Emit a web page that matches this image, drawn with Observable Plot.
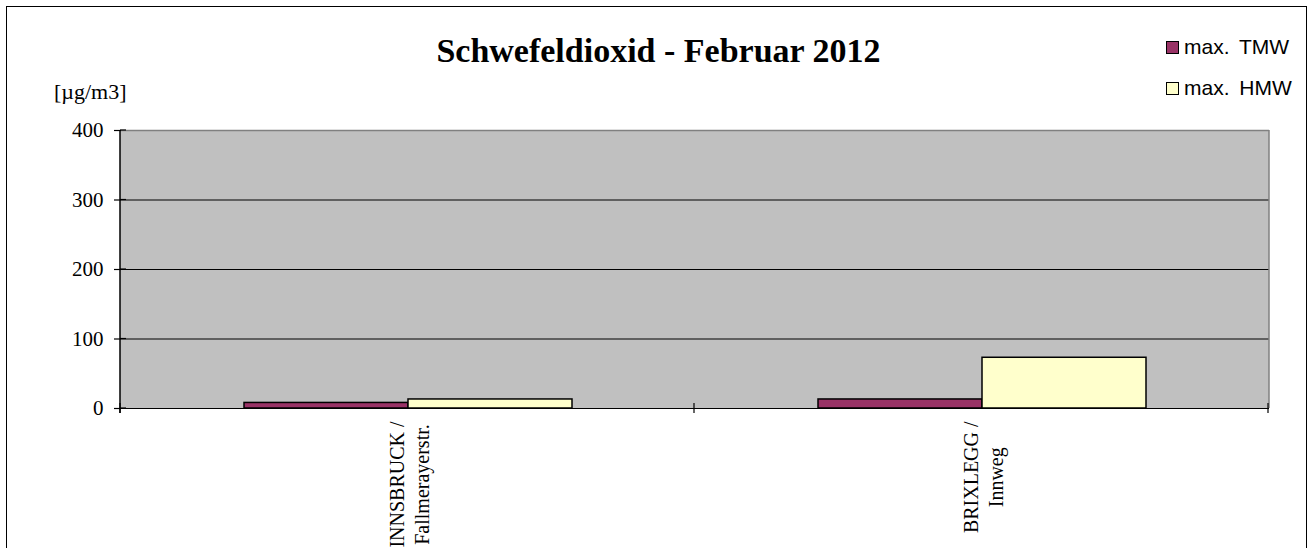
<!DOCTYPE html>
<html>
<head>
<meta charset="utf-8">
<script src="https://cdn.jsdelivr.net/npm/d3@7"></script>
<script src="https://cdn.jsdelivr.net/npm/@observablehq/plot@0.6"></script>
<style>
  html, body { margin: 0; padding: 0; background: #fff; }
  #wrap { position: relative; width: 1313px; height: 548px; overflow: hidden; background: #fff; }
  #chart { position: absolute; left: 0; top: 0; }
  #border { position: absolute; left: 6px; top: 6px; width: 1301px; height: 700px; border: 1.5px solid #000; box-sizing: border-box; pointer-events: none; }
  #title { position: absolute; left: 2px; top: 34px; width: 1313px; text-align: center; font: bold 34px/1 "Liberation Serif", "Times New Roman", serif; color: #000; }
  #unit { position: absolute; left: 54px; top: 81px; font: 22px/1 "Liberation Serif", "Times New Roman", serif; color: #000; }
  .leg { position: absolute; left: 1166px; font: 21px/1 "Liberation Sans", Arial, sans-serif; color: #000; word-spacing: 4px; white-space: nowrap; }
  .leg .sw { position: absolute; left: 0; width: 11px; height: 11px; border: 1px solid #000; }
  .leg .lb { position: absolute; left: 18px; top: 0; }
</style>
</head>
<body>
<div id="wrap">
  <div id="chart"></div>
  <div id="title">Schwefeldioxid - Februar 2012</div>
  <div id="unit">[µg/m3]</div>
  <div id="legend"></div>
  <div id="border"></div>
</div>
<script>
// ---- data ----
const stations = ["INNSBRUCK /\nFallmerayerstr.", "BRIXLEGG /\nInnweg"];
const seriesNames = ["max. TMW", "max. HMW"];
const tmwValues = [8, 13];
const hmwValues = [13, 73];
const yTicks = [0, 100, 200, 300, 400];
const gridTicks = [100, 200, 300];
const seriesColors = ["#993366", "#FFFFCC"];

// table for the library
const rows = [];
stations.forEach((s, i) => {
  rows.push({station: s, series: seriesNames[0], value: tmwValues[i]});
  rows.push({station: s, series: seriesNames[1], value: hmwValues[i]});
});

const chart = Plot.plot({
  width: 1313,
  height: 548,
  marginTop: 130,
  marginBottom: 140,
  marginLeft: 120,
  marginRight: 44,
  style: {fontFamily: "'Liberation Serif', 'Times New Roman', serif", fontSize: "21px", background: "transparent", overflow: "visible"},
  fx: {domain: stations, padding: 0, axis: null},
  x: {domain: seriesNames, paddingInner: 0, paddingOuter: 0.741, axis: null},
  y: {domain: [0, 400], axis: null},
  color: {domain: seriesNames, range: seriesColors},
  marks: [
    Plot.gridY({ticks: gridTicks, stroke: "#000", strokeOpacity: 1, strokeWidth: 1}),
    Plot.ruleY([400], {stroke: "#808080", strokeWidth: 1.5}),
    Plot.barY(rows, {fx: "station", x: "series", y: "value", fill: "series", stroke: "#000", strokeWidth: 1.5}),
    Plot.ruleY([0], {stroke: "#000", strokeWidth: 1}),
    Plot.axisY({ticks: yTicks, tickSize: 7, tickPadding: 11, fontSize: 21, label: null, stroke: "#000", strokeWidth: 1.2, tickFormat: d => String(d)}),
    Plot.text(stations, {fx: d => d, text: d => d, frameAnchor: "bottom", rotate: -90, textAnchor: "middle", lineAnchor: "middle", lineHeight: 1.25, fontSize: 20, fill: "#000", dy: 75})
  ]
});
document.getElementById("chart").appendChild(chart);

// ---- decorations derived from the library's scales ----
const svg = d3.select(chart);
const fxs = chart.scale("fx");
const ys = chart.scale("y");
const x0 = fxs.range[0], x1 = fxs.range[1];
const yb = ys.apply(0), yt = ys.apply(400);
const step = fxs.step || (x1 - x0) / stations.length;

// plot-area background (one rect, below everything)
svg.insert("rect", ":first-child")
  .attr("x", x0).attr("y", yt).attr("width", x1 - x0).attr("height", yb - yt)
  .attr("fill", "#C0C0C0");

const deco = svg.append("g");
deco.append("line").attr("x1", x1).attr("x2", x1).attr("y1", yt).attr("y2", yb).attr("stroke", "#808080").attr("stroke-width", 1.5);
deco.append("line").attr("x1", x0).attr("x2", x0).attr("y1", yt).attr("y2", yb + 5).attr("stroke", "#000").attr("stroke-width", 1.5);
for (let i = 0; i <= stations.length; i++) {
  const xx = x0 + i * step;
  deco.append("line").attr("x1", xx).attr("x2", xx).attr("y1", yb - 5).attr("y2", yb + 5).attr("stroke", "#000").attr("stroke-width", 1.2);
}
// y ticks crossing slightly into the plot
yTicks.forEach(t => {
  deco.append("line").attr("x1", x0).attr("x2", x0 + 6).attr("y1", ys.apply(t)).attr("y2", ys.apply(t)).attr("stroke", "#000").attr("stroke-width", 1.2);
});

// top-align the rotated category labels just below the axis
const svgRect = chart.getBoundingClientRect();
svg.selectAll('g[aria-label="text"] text').each(function() {
  const r = this.getBoundingClientRect();
  const top = r.top - svgRect.top;
  const shift = (yb + 13) - top;
  this.setAttribute("transform", `translate(0,${shift}) ` + (this.getAttribute("transform") || ""));
});

// ---- legend ----
const legend = document.getElementById("legend");
const legTops = [36, 77];
seriesNames.forEach((name, i) => {
  const d = document.createElement("div");
  d.className = "leg";
  d.style.top = legTops[i] + "px";
  const sw = document.createElement("div");
  sw.className = "sw";
  sw.style.background = seriesColors[i];
  sw.style.top = "5px";
  const lb = document.createElement("div");
  lb.className = "lb";
  lb.textContent = name;
  d.appendChild(sw);
  d.appendChild(lb);
  legend.appendChild(d);
});
</script>
</body>
</html>
